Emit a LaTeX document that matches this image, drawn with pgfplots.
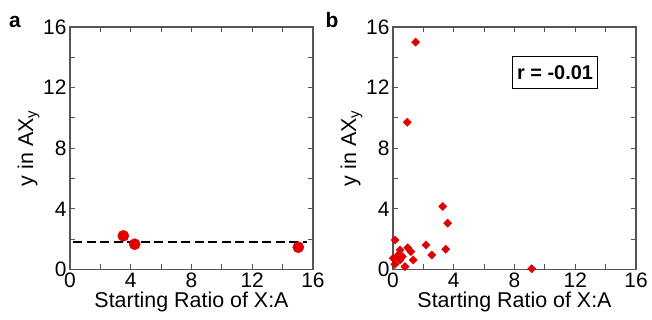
\documentclass[border=0pt]{standalone}
\usepackage{fontspec}
\setmainfont{Liberation Sans}
\usepackage{pgfplots}
\pgfplotsset{compat=1.18}
\definecolor{axgray}{RGB}{85,85,85}
\definecolor{myred}{RGB}{224,0,0}
\pgfplotsset{
  myax/.style={
    scale only axis, width=243bp, height=242.5bp,
    xmin=0, xmax=16, ymin=0, ymax=16,
    xtick={0,4,8,12,16}, ytick={0,4,8,12,16},
    minor tick num=1,
    tick align=inside, tick pos=both,
    major tick length=5bp, minor tick length=5bp,
    axis line style={axgray, line width=1.2bp},
    every tick/.style={axgray, line width=1.1bp},
    every minor tick/.style={axgray, line width=1.1bp},
    /pgf/number format/assume math mode=true,
    tick label style={font=\fontsize{21}{24}\selectfont},
    label style={font=\fontsize{21.5}{24}\selectfont},
    xlabel={Starting Ratio of X:A},
    ylabel={y in AX\textsubscript{y}},
    xlabel style={yshift=3bp},
    ylabel style={yshift=-3bp},
    clip=false,
  }
}
\begin{document}
\begin{tikzpicture}
\useasboundingbox (0,0) rectangle (652bp,320bp);
\begin{axis}[myax, at={(70bp,50.5bp)}, anchor=south west]
\addplot[only marks, mark=*, mark size=5.6bp, color=myred] coordinates {
(3.51,2.22) (4.26,1.67) (15.03,1.47)
};
\addplot[black, line width=2.2bp, dash pattern=on 9bp off 4.5bp] coordinates {(0.2,1.82) (15.6,1.82)};
\end{axis}
\begin{axis}[myax, at={(393bp,50.5bp)}, anchor=south west]
\addplot[only marks, mark=square*, mark size=2.9bp, mark options={rotate=45}, color=myred] coordinates {
(1.49,15.0) (0.94,9.72)
(3.27,4.16) (3.60,3.06) (3.47,1.34)
(2.17,1.62) (2.55,0.96)
(0.13,1.95) (0.46,1.29) (0.97,1.44) (1.18,1.18)
(0.35,0.96) (0.61,0.85) (1.33,0.63) (0.02,0.74)
(0.13,0.34) (0.79,0.19) (0.46,0.63)
(9.13,0.05)
};
\node[draw=black, line width=1.3bp, font=\bfseries\fontsize{20}{24}\selectfont, inner xsep=4.5bp, minimum height=32bp] at (axis cs:10.67,13.0) {r = -0.01};
\end{axis}
\node[font=\bfseries\fontsize{21}{24}\selectfont, anchor=base] at (15bp,292bp) {a};
\node[font=\bfseries\fontsize{21}{24}\selectfont, anchor=base] at (332bp,292bp) {b};
\end{tikzpicture}
\end{document}
